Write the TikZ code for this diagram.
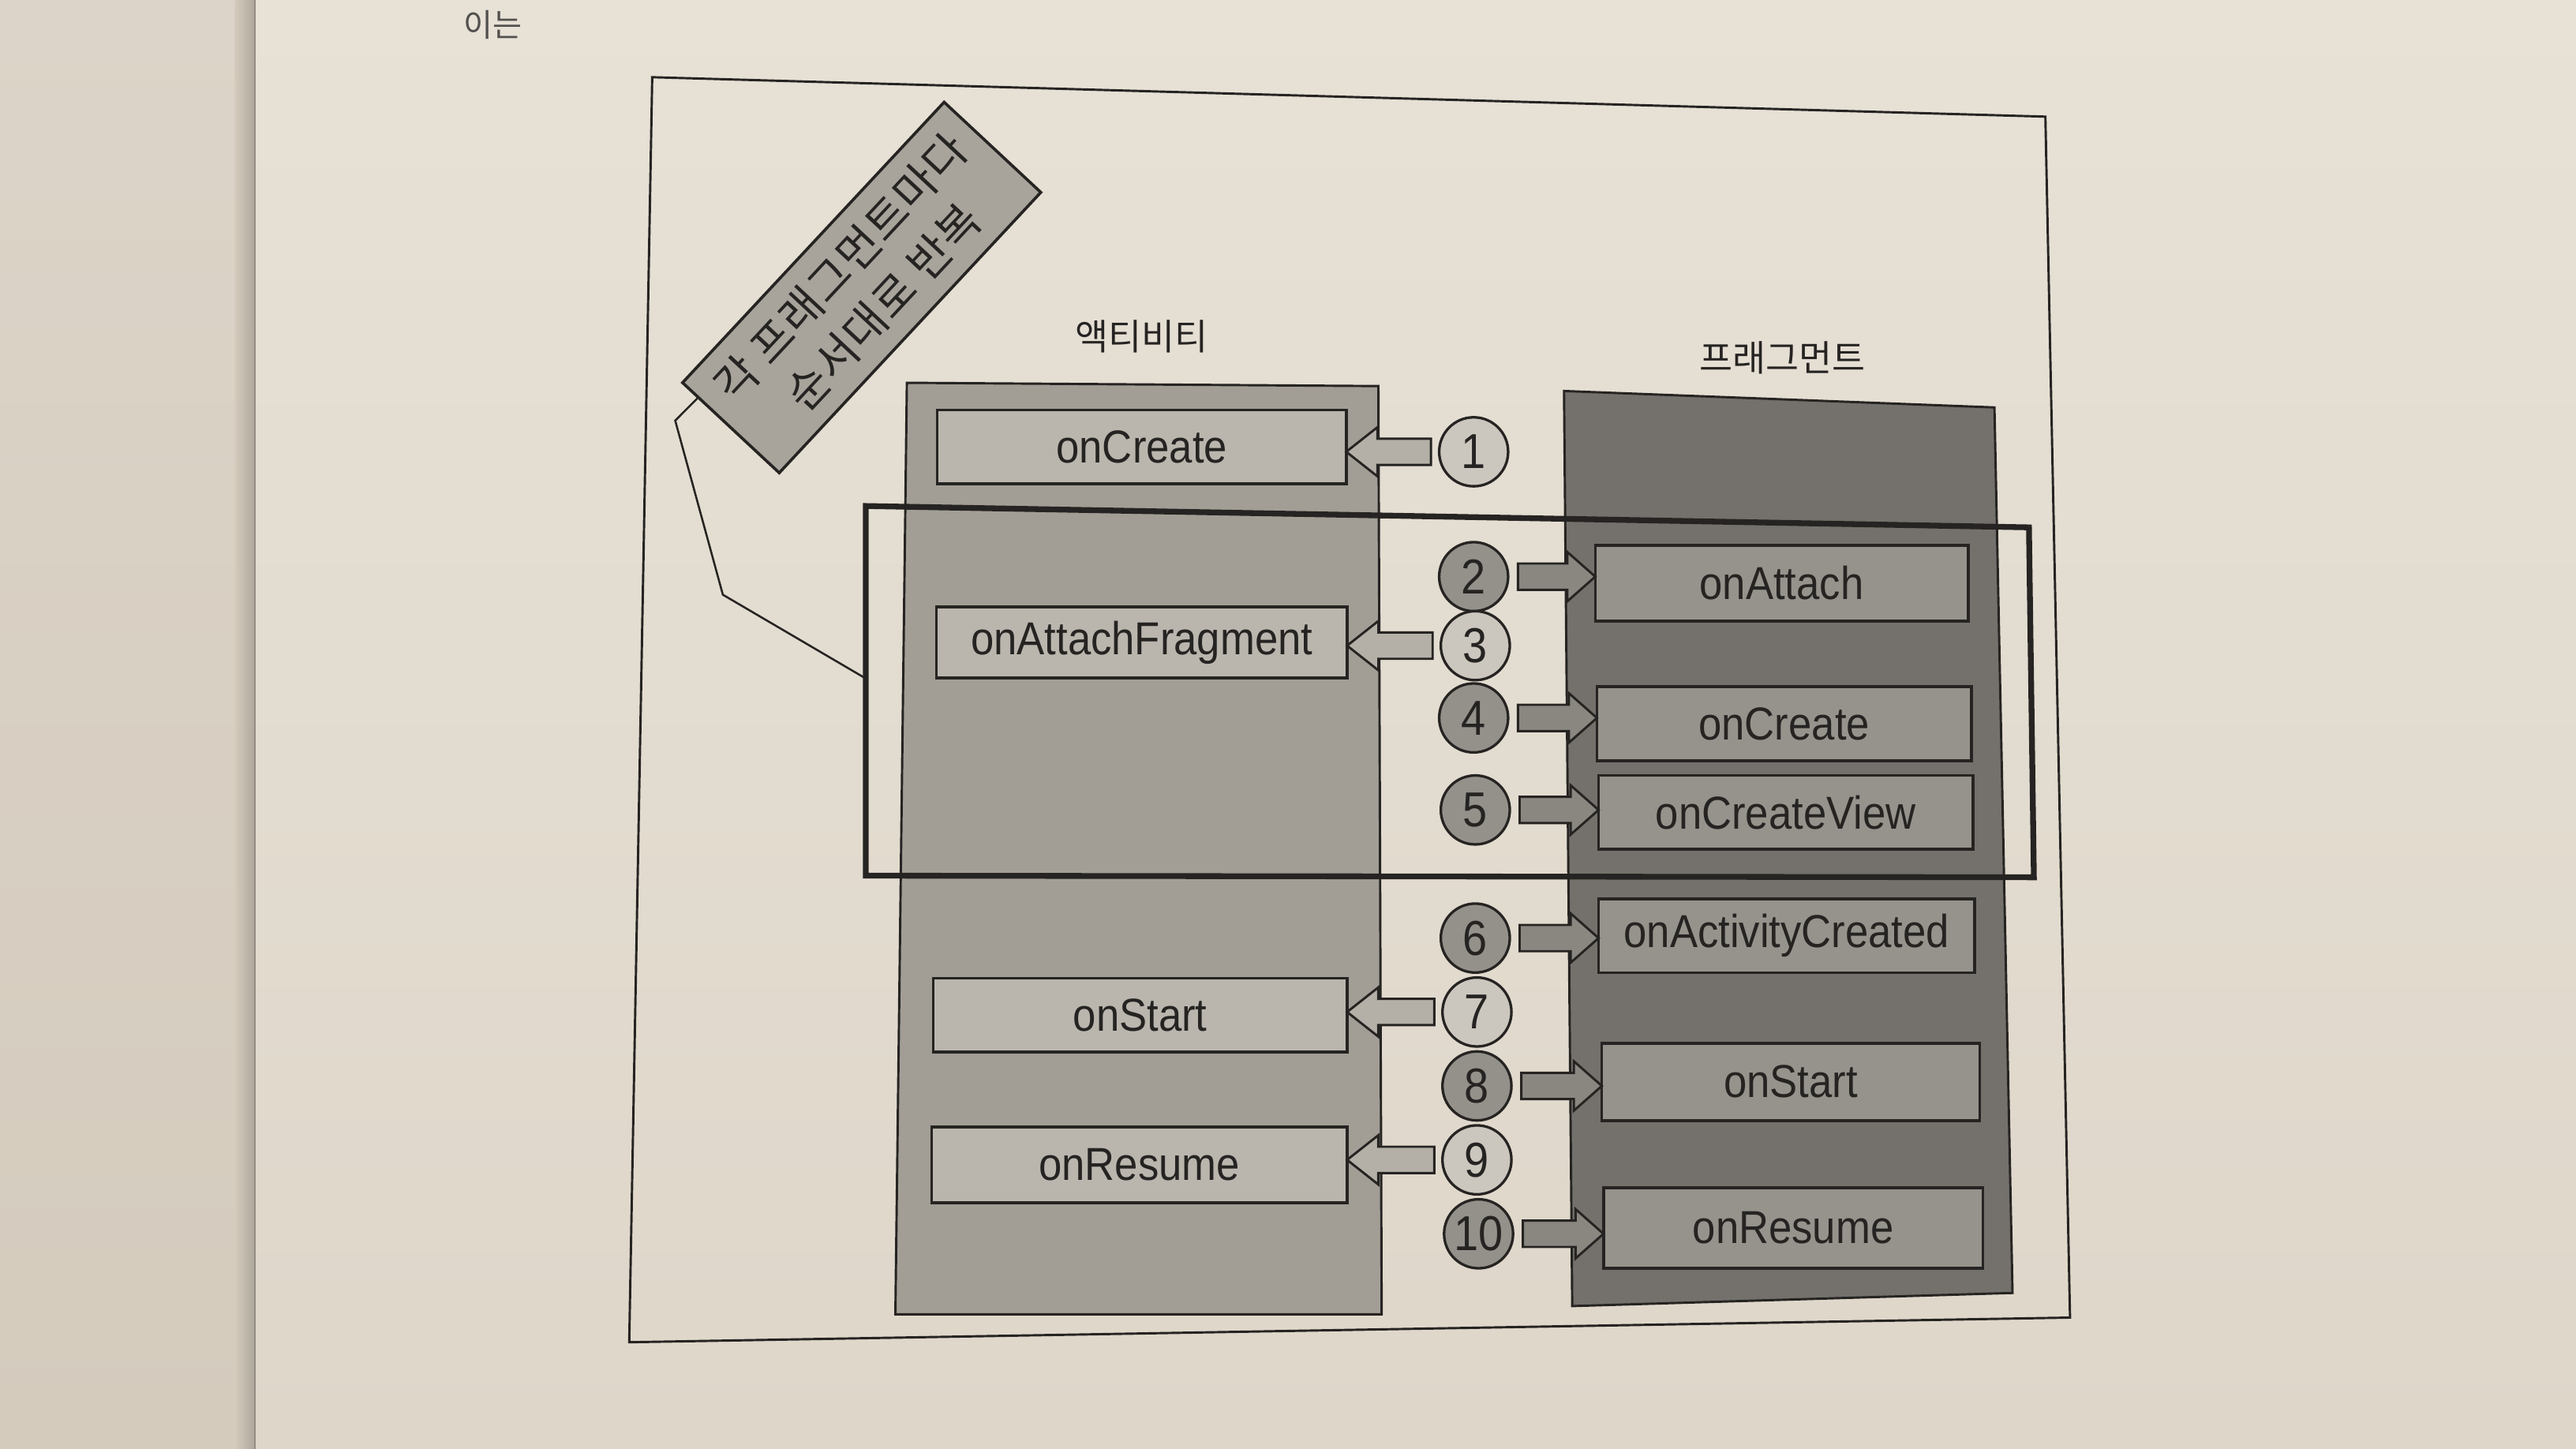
\documentclass[tikz,border=0pt]{standalone}
\usepackage{fontspec}
\setmainfont{Liberation Sans}
\newfontfamily\methfont[FakeStretch=0.9]{Liberation Sans}
\newfontfamily\kr{Noto Sans CJK KR}
\newfontfamily\krwide[LetterSpace=2]{Noto Sans CJK KR}
\usetikzlibrary{calc}
\definecolor{pagetop}{RGB}{231,225,214}
\definecolor{pagebot}{RGB}{222,214,201}
\definecolor{lpagetop}{RGB}{220,212,200}
\definecolor{lpagebot}{RGB}{212,203,189}
\definecolor{actcol}{RGB}{162,158,150}
\definecolor{actbox}{RGB}{186,182,174}
\definecolor{fragcol}{RGB}{116,113,108}
\definecolor{fragbox}{RGB}{150,147,140}
\definecolor{notefill}{RGB}{168,164,156}
\definecolor{circlight}{RGB}{204,199,190}
\definecolor{circdark}{RGB}{148,145,139}
\definecolor{arrlight}{RGB}{180,176,168}
\definecolor{arrdark}{RGB}{138,135,129}
\definecolor{ink}{RGB}{38,36,34}
\tikzset{
  methodfont/.style={font=\methfont\fontsize{16}{18}\selectfont, text=ink},
  abox/.style={draw=ink, line width=1pt, fill=actbox, inner sep=0pt, outer sep=0pt, methodfont},
  fbox/.style={draw=ink, line width=1pt, fill=fragbox, inner sep=0pt, outer sep=0pt, methodfont},
  circ/.style={circle, draw=ink, line width=0.9pt, minimum size=0.84cm, inner sep=0pt, outer sep=0pt,
    font=\methfont\fontsize{17}{17}\selectfont, text=ink},
  arrL/.style={draw=ink, line width=0.8pt, fill=arrlight, line join=miter},
  arrR/.style={draw=ink, line width=0.8pt, fill=arrdark, line join=miter},
  collabel/.style={font=\kr\fontsize{12.5}{14}\selectfont, text=ink},
}
\newcommand\leftarr[2]{%
  \coordinate (s) at ($(#1.west)+(-5,0)$);
  \coordinate (t) at (#2.east |- #1.center);
  \filldraw[arrL] ($(s)+(0,-8)$) -- ($(t)+(19,-8)$) -- ($(t)+(19,-15)$) -- (t)
    -- ($(t)+(19,15)$) -- ($(t)+(19,8)$) -- ($(s)+(0,8)$) -- cycle;}
\newcommand\rightarr[2]{%
  \coordinate (s) at ($(#1.east)+(6,0)$);
  \coordinate (t) at (#2.west |- #1.center);
  \filldraw[arrR] ($(s)+(0,-8)$) -- ($(t)+(-17,-8)$) -- ($(t)+(-17,-15)$) -- (t)
    -- ($(t)+(-17,15)$) -- ($(t)+(-17,8)$) -- ($(s)+(0,8)$) -- cycle;}
\begin{document}
\begin{tikzpicture}[x=0.02cm,y=-0.02cm]
\useasboundingbox (0,0) rectangle (1568,882);
% paper
\shade[top color=pagetop, bottom color=pagebot] (0,0) rectangle (1568,882);
\shade[top color=lpagetop, bottom color=lpagebot] (0,0) rectangle (155,882);
\shade[left color=lpagebot, right color=black!18!lpagebot] (143,0) rectangle (155,882);
\draw[black!30!lpagebot, line width=0.5pt] (155,0) -- (155,882);
\node[anchor=north, font=\kr\fontsize{11}{11}\selectfont, text=ink!80] (prevtext) at (300,0) {이는};
% outer frame
\draw[ink, line width=0.8pt] (397,47) -- (1245,71) -- (1260,802) -- (383,817) -- cycle;
% columns
\filldraw[fill=actcol, draw=ink, line width=0.8pt] (552,233) -- (839,235) -- (841,800) -- (545,800) -- cycle;
\filldraw[fill=fragcol, draw=ink, line width=0.8pt] (952,238) -- (1214,248) -- (1225,787) -- (957,795) -- cycle;
\node[collabel] (actlabel) at (695,205) {액티비티};
\node[collabel] (fraglabel) at (1085,218) {프래그먼트};
% activity boxes
\node[abox, minimum width=4.98cm, minimum height=0.90cm] (aCreate) at (695,272) {onCreate};
\node[abox, minimum width=5.00cm, minimum height=0.86cm] (aAttach) at (695,391) {onAttachFragment};
\node[abox, minimum width=5.04cm, minimum height=0.90cm] (aStart) at (694,618) {onStart};
\node[abox, minimum width=5.06cm, minimum height=0.92cm] (aResume) at (693.5,709) {onResume};
% fragment boxes
\node[fbox, minimum width=4.54cm, minimum height=0.92cm] (fAttach) at (1084.5,355) {onAttach};
\node[fbox, minimum width=4.56cm, minimum height=0.90cm] (fCreate) at (1086,440.5) {onCreate};
\node[fbox, minimum width=4.56cm, minimum height=0.90cm] (fView) at (1087,494.5) {onCreateView};
\node[fbox, minimum width=4.58cm, minimum height=0.90cm] (fActCreated) at (1087.5,569.5) {onActivityCreated};
\node[fbox, minimum width=4.60cm, minimum height=0.94cm] (fStart) at (1090,658.5) {onStart};
\node[fbox, minimum width=4.62cm, minimum height=0.98cm] (fResume) at (1091.5,747.5) {onResume};
% step circles
\node[circ, fill=circlight] (c1) at (897,275) {1};
\node[circ, fill=circdark] (c2) at (897,351) {2};
\node[circ, fill=circlight] (c3) at (898,393) {3};
\node[circ, fill=circdark] (c4) at (897,437) {4};
\node[circ, fill=circdark] (c5) at (898,493) {5};
\node[circ, fill=circdark] (c6) at (898,571) {6};
\node[circ, fill=circlight] (c7) at (899,616) {7};
\node[circ, fill=circdark] (c8) at (899,661) {8};
\node[circ, fill=circlight] (c9) at (899,706) {9};
\node[circ, fill=circdark] (c10) at (900,751) {10};
% block arrows
\leftarr{c1}{aCreate}
\rightarr{c2}{fAttach}
\leftarr{c3}{aAttach}
\rightarr{c4}{fCreate}
\rightarr{c5}{fView}
\rightarr{c6}{fActCreated}
\leftarr{c7}{aStart}
\rightarr{c8}{fStart}
\leftarr{c9}{aResume}
\rightarr{c10}{fResume}
% repeat frame
\draw[ink, line width=2pt] (527,308) -- (1235,321) -- (1238,534) -- (527,533) -- cycle;
\coordinate (frameL) at (527,413);
% rotated note
\node[draw=ink, line width=1pt, fill=notefill, rotate=47, minimum width=4.67cm, minimum height=1.61cm,
  inner sep=0pt, align=center, font=\krwide\fontsize{15.5}{20}\selectfont, text=ink] (rep) at (524.5,175)
  {각 프래그먼트마다\\순서대로 반복};
\draw[ink, line width=0.7pt] ($(rep.north west)!0.17!(rep.south west)$) -- (411,256) -- (440,362) -- (frameL);
\end{tikzpicture}
\end{document}
